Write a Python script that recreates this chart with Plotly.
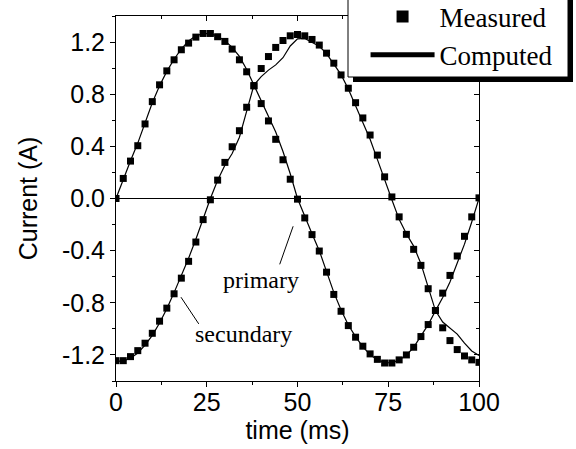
import plotly.graph_objects as go

# ---------------- data ----------------
TIME_MS = [0, 2, 4, 6, 8, 10, 12, 14, 16, 18, 20, 22, 24, 26, 28, 30, 32, 34, 36, 38,
           40, 42, 44, 46, 48, 50, 52, 54, 56, 58, 60, 62, 64, 66, 68, 70, 72, 74, 76, 78,
           80, 82, 84, 86, 88, 90, 92, 94, 96, 98, 100]

PRIMARY_MEASURED = [0.000, 0.154, 0.287, 0.405, 0.572, 0.743, 0.872, 0.979, 1.064, 1.141,
                    1.192, 1.238, 1.266, 1.266, 1.241, 1.205, 1.146, 1.064, 0.972, 0.866,
                    0.728, 0.595, 0.454, 0.297, 0.148, -0.005, -0.149, -0.277, -0.403, -0.565,
                    -0.736, -0.865, -0.975, -1.064, -1.133, -1.192, -1.234, -1.262, -1.262, -1.238,
                    -1.200, -1.141, -1.059, -0.967, -0.859, -0.726, -0.590, -0.441, -0.290, -0.141,
                    0.005]

SECUNDARY_MEASURED = [-1.244, -1.244, -1.213, -1.167, -1.110, -1.034, -0.941, -0.841, -0.731, -0.611,
                      -0.482, -0.334, -0.162, -0.010, 0.141, 0.277, 0.397, 0.520, 0.700, 0.864,
                      0.997, 1.089, 1.159, 1.212, 1.248, 1.258, 1.248, 1.220, 1.177, 1.115,
                      1.038, 0.948, 0.846, 0.735, 0.618, 0.487, 0.333, 0.166, 0.012, -0.141,
                      -0.275, -0.390, -0.513, -0.692, -0.859, -0.992, -1.090, -1.159, -1.208, -1.238,
                      -1.257]

PRIMARY_COMPUTED = [0.000, 0.150, 0.290, 0.425, 0.580, 0.735, 0.865, 0.975, 1.068, 1.148,
                    1.208, 1.248, 1.265, 1.265, 1.245, 1.210, 1.160, 1.090, 0.990, 0.870,
                    0.760, 0.640, 0.510, 0.360, 0.190, 0.000, -0.140, -0.270, -0.400, -0.560,
                    -0.720, -0.855, -0.970, -1.060, -1.138, -1.198, -1.238, -1.260, -1.260, -1.240,
                    -1.200, -1.142, -1.060, -0.968, -0.862, -0.760, -0.640, -0.500, -0.350, -0.180,
                    0.000]

SECUNDARY_COMPUTED = [-1.250, -1.245, -1.225, -1.185, -1.125, -1.050, -0.955, -0.845, -0.722, -0.592,
                      -0.458, -0.312, -0.155, 0.000, 0.140, 0.255, 0.345, 0.470, 0.670, 0.870,
                      0.935, 0.985, 1.025, 1.080, 1.170, 1.225, 1.228, 1.200, 1.168, 1.112,
                      1.035, 0.950, 0.840, 0.710, 0.590, 0.455, 0.300, 0.140, -0.010, -0.160,
                      -0.270, -0.365, -0.500, -0.680, -0.860, -0.948, -0.995, -1.040, -1.110, -1.170,
                      -1.205]

X_TICK_VALUES = [0, 25, 50, 75, 100]
Y_TICK_VALUES = [-1.2, -0.8, -0.4, 0.0, 0.4, 0.8, 1.2]
Y_TICK_LABELS = ["-1.2", "-0.8", "-0.4", "0.0", "0.4", "0.8", "1.2"]

SERIES_NAMES = ["Measured", "Computed"]
LABEL_TEXTS = ["primary", "secundary"]

# annotation anchor points (data units)
PRIMARY_LABEL_AT = (40.0, -0.628)
PRIMARY_LEADER = ((45.1, -0.505), (48.8, -0.213))
SECUNDARY_LABEL_AT = (35.2, -1.038)
SECUNDARY_LEADER = ((17.9, -0.757), (22.8, -0.962))

# ---------------- styling ----------------
SANS = "Liberation Sans, Arial, sans-serif"
SERIF = "Liberation Serif, Times New Roman, serif"
BLACK = "#000000"

fig = go.Figure()

marker_style = dict(symbol="square", size=7, color=BLACK, line=dict(width=0))
line_style = dict(color=BLACK, width=1.2)

fig.add_trace(go.Scatter(x=TIME_MS, y=PRIMARY_MEASURED, mode="markers", marker=marker_style,
                         name=SERIES_NAMES[0], legendgroup="m", showlegend=True))
fig.add_trace(go.Scatter(x=TIME_MS, y=SECUNDARY_MEASURED, mode="markers", marker=marker_style,
                         name=SERIES_NAMES[0], legendgroup="m", showlegend=False))
fig.add_trace(go.Scatter(x=TIME_MS, y=PRIMARY_COMPUTED, mode="lines", line=line_style,
                         name=SERIES_NAMES[1], legendgroup="c", showlegend=True,
                         xaxis="x2", yaxis="y2"))
fig.add_trace(go.Scatter(x=TIME_MS, y=SECUNDARY_COMPUTED, mode="lines", line=line_style,
                         name=SERIES_NAMES[1], legendgroup="c", showlegend=False,
                         xaxis="x2", yaxis="y2"))

axis_common = dict(showline=True, linecolor=BLACK, linewidth=1, showgrid=False,
                   tickcolor=BLACK, tickwidth=1, ticklen=5)

fig.update_layout(
    width=576, height=449,
    margin=dict(l=116, r=97, t=16, b=68, autoexpand=False),
    paper_bgcolor="white", plot_bgcolor="white",
    font=dict(family=SANS, size=25, color=BLACK),
    showlegend=True,
    xaxis=dict(range=[0, 100], tickmode="array", tickvals=X_TICK_VALUES, ticks="outside",
               zeroline=False, tickfont=dict(family=SANS, size=25), ticklabelstandoff=-6,
               minor=dict(ticks="outside", ticklen=3, dtick=12.5, tick0=0, tickcolor=BLACK),
               title=dict(text="time (ms)", font=dict(family=SANS, size=25), standoff=0),
               **axis_common),
    xaxis2=dict(range=[0, 100], matches="x", overlaying="x", side="top", anchor="y2",
                tickmode="array", tickvals=X_TICK_VALUES, ticks="inside", showticklabels=False,
                zeroline=False,
                minor=dict(ticks="inside", ticklen=3, dtick=12.5, tick0=0, tickcolor=BLACK),
                **axis_common),
    yaxis=dict(range=[-1.4, 1.4], tickmode="array", tickvals=Y_TICK_VALUES, ticktext=Y_TICK_LABELS,
               ticks="outside", zeroline=True, zerolinecolor=BLACK, zerolinewidth=1,
               tickfont=dict(family=SANS, size=25),
               minor=dict(ticks="outside", ticklen=3, dtick=0.2, tick0=0, tickcolor=BLACK),
               title=dict(text="Current (A)", font=dict(family=SANS, size=25), standoff=17),
               **axis_common),
    yaxis2=dict(range=[-1.4, 1.4], matches="y", overlaying="y", side="right", anchor="x2",
                tickmode="array", tickvals=Y_TICK_VALUES, ticks="inside", showticklabels=False,
                zeroline=False,
                minor=dict(ticks="inside", ticklen=3, dtick=0.2, tick0=0, tickcolor=BLACK),
                **axis_common),
    legend=dict(x=0.6875, y=1.0644, xanchor="left", yanchor="top", bgcolor="rgba(0,0,0,0)",
                borderwidth=0, font=dict(family=SERIF, size=27, color=BLACK),
                itemsizing="constant", itemwidth=64, tracegroupgap=0, traceorder="normal"),
)

# legend frame with drop shadow (pixel offsets from the plot's top-right corner)
fig.add_shape(type="rect", xref="paper", yref="paper", xsizemode="pixel", ysizemode="pixel",
              xanchor=1, yanchor=1, x0=-126, x1=94, y0=-66, y1=25,
              fillcolor=BLACK, line=dict(width=0), layer="above")
fig.add_shape(type="rect", xref="paper", yref="paper", xsizemode="pixel", ysizemode="pixel",
              xanchor=1, yanchor=1, x0=-131, x1=89, y0=-61, y1=25,
              fillcolor="white", line=dict(color=BLACK, width=1), layer="above")

# curve labels with leader lines
for text, at, leader in [(LABEL_TEXTS[0], PRIMARY_LABEL_AT, PRIMARY_LEADER),
                         (LABEL_TEXTS[1], SECUNDARY_LABEL_AT, SECUNDARY_LEADER)]:
    fig.add_annotation(x=at[0], y=at[1], xref="x", yref="y", text=text, showarrow=False,
                       font=dict(family=SERIF, size=24, color=BLACK),
                       xanchor="center", yanchor="middle")
    fig.add_shape(type="line", xref="x", yref="y", x0=leader[0][0], y0=leader[0][1],
                  x1=leader[1][0], y1=leader[1][1], line=dict(color=BLACK, width=1))

fig.write_html("out.html")
